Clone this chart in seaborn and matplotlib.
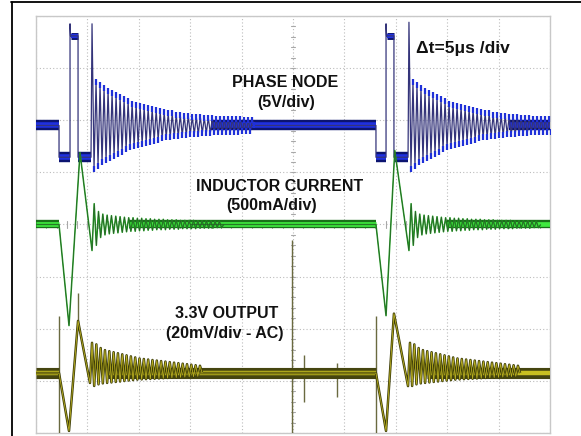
"""
Buck converter switching waveforms (scope capture):
phase node, inductor current and 3.3V output ripple.
Time base 5 us/div, vertical values in screen divisions.
"""

import numpy as np
import pandas as pd
import matplotlib.pyplot as plt
from matplotlib.lines import Line2D
import seaborn as sns

# ---- data read from the capture (t in us, v in divisions) ----
# phase node edges, two switching events
phase_ev1_t = [0.0, 2.24, 2.24, 3.31, 3.31, 3.36, 4.09, 4.09, 5.35, 5.45]
phase_ev1_v = [1.90, 1.90, 1.29, 1.29, 3.85, 3.62, 3.62, 1.29, 1.29, 3.85]
phase_ev2_t = [21.0, 33.07, 33.07, 34.05, 34.05, 34.10, 34.82, 34.82, 36.19, 36.28]
phase_ev2_v = [1.90, 1.90, 1.29, 1.29, 3.85, 3.62, 3.62, 1.29, 1.29, 3.88]
phase_base = 1.90
phase_period = 0.39
phase_ring = [0.83, 0.77, 0.71, 0.67, 0.62, 0.58, 0.54, 0.50, 0.46, 0.42,
              0.40, 0.37, 0.35, 0.33, 0.31, 0.29, 0.27, 0.25, 0.23, 0.23,
              0.21, 0.21, 0.19, 0.19, 0.17, 0.17, 0.17, 0.15, 0.15, 0.15,
              0.13, 0.13, 0.13, 0.12, 0.12, 0.12, 0.12, 0.10, 0.10, 0.10]
phase_band = [(0.0, 2.24, 1.90), (17.0, 33.07, 1.90), (46.0, 50.0, 1.90),
              (2.24, 3.31, 1.29), (4.09, 5.35, 1.29), (33.07, 34.05, 1.29),
              (34.82, 36.19, 1.29)]
phase_high = [(3.36, 4.09, 3.62), (34.10, 34.82, 3.62)]

# inductor current
ind_ev1_t = [0.0, 2.24, 3.21, 4.28, 5.45]
ind_ev1_v = [0.0, 0.0, -1.94, 1.38, -0.50]
ind_ev2_t = [15.0, 33.07, 34.05, 34.90, 36.28]
ind_ev2_v = [0.0, 0.0, -1.75, 1.42, -0.50]
ind_base = 0.0
ind_period = 0.42
ind_ring = [0.40, 0.25, 0.20, 0.18, 0.17, 0.16, 0.15, 0.14, 0.13, 0.13,
            0.12, 0.12, 0.11, 0.11, 0.10, 0.10, 0.10, 0.09, 0.09, 0.09,
            0.08, 0.08, 0.08, 0.08, 0.07, 0.07, 0.07, 0.07, 0.06, 0.06]
ind_band = [(0.0, 2.24, 0.0), (9.0, 33.07, 0.0), (40.0, 50.0, 0.0)]

# 3.3V output ripple
out_ev1_t = [0.0, 2.24, 3.21, 4.09, 5.25, 5.45]
out_ev1_v = [-2.85, -2.85, -3.96, -1.85, -3.04, -2.27]
out_ev2_t = [15.0, 33.07, 34.05, 34.82, 36.19, 36.38]
out_ev2_v = [-2.85, -2.85, -3.96, -1.71, -3.10, -2.27]
out_base = -2.85
out_period = 0.42
out_ring = [0.55, 0.48, 0.44, 0.42, 0.40, 0.38, 0.36, 0.34, 0.32, 0.30,
            0.28, 0.27, 0.26, 0.25, 0.24, 0.23, 0.22, 0.21, 0.20, 0.19,
            0.18, 0.17, 0.16, 0.15, 0.14]
out_band = [(0.0, 2.24, -2.85), (7.0, 33.07, -2.85), (38.0, 50.0, -2.85)]
out_spikes = [(2.24, -1.75, -4.02), (4.09, -1.31, -2.0), (33.07, -1.75, -4.02),
              (24.9, -0.3, -4.02), (26.1, -2.5, -3.4), (29.3, -2.65, -3.3)]


def ring(t_list, v_list, base, amps, period, sign, low=1.0):
    # continue an edge sequence with decaying ringing around the base level
    ts, vs = list(t_list), list(v_list)
    t0 = ts[-1]
    for i, a in enumerate(amps):
        first = a if sign > 0 else a * low
        second = a * low if sign > 0 else a
        ts += [t0 + period * (i + 0.5), t0 + period * (i + 1)]
        vs += [base + sign * first, base - sign * second]
    ts.append(ts[-1] + period / 2)
    vs.append(base)
    return ts, vs


def frame(segments):
    rows = []
    for k, (ts, vs) in enumerate(segments):
        for t, v in zip(ts, vs):
            rows.append((k, t, v))
    return pd.DataFrame(rows, columns=['seg', 't', 'v'])


def draw(ax, segments, color, lw, zorder):
    sns.lineplot(data=frame(segments), x='t', y='v', units='seg', estimator=None,
                 sort=False, color=color, lw=lw, ax=ax, zorder=zorder,
                 legend=False, solid_capstyle='butt')


def peaks(ax, segments, start, color, size, zorder):
    # short coloured dashes at the turning points of the ringing
    df = frame([(ts[start:], vs[start:]) for ts, vs in segments])
    sns.scatterplot(data=df, x='t', y='v', color=color, s=size, marker='|',
                    linewidth=1.6, ax=ax, zorder=zorder, legend=False)


def bands(spans):
    return [([a, b], [v, v]) for a, b, v in spans]


sns.set_style('white')
plt.rcParams['font.family'] = ['Liberation Sans', 'DejaVu Sans']

fig = plt.figure(figsize=(5.81, 4.36), dpi=100)
ax = fig.add_axes([36 / 581, 3 / 436, 514 / 581, 417 / 436])

# graticule
ax.set_xlim(0, 50)
ax.set_ylim(-4.0, 4.0)
ax.set_xticks(np.arange(0, 51, 5))
ax.set_yticks(np.arange(-4, 5, 1))
ax.grid(True, color='#bcbcbc', lw=0.8, linestyle=(0, (1, 2)))
ax.tick_params(length=0, labelbottom=False, labelleft=False)
for s in ax.spines.values():
    s.set_color('#c8c8c8')
    s.set_linewidth(1.0)
for x in np.arange(1, 50, 1):
    ax.plot([x, x], [-0.07, 0.07], color='#a8a8a8', lw=0.8, zorder=1)
for y in np.arange(-3.8, 4.0, 0.2):
    ax.plot([24.85, 25.15], [y, y], color='#a8a8a8', lw=0.8, zorder=1)

# phase node
ph1 = ring(phase_ev1_t, phase_ev1_v, phase_base, phase_ring, phase_period, -1)
ph2 = ring(phase_ev2_t, phase_ev2_v, phase_base, phase_ring, phase_period, -1)
draw(ax, bands(phase_band), '#0c1470', 7.5, 3)
draw(ax, bands(phase_band), '#1f30e0', 4.0, 4)
draw(ax, bands(phase_high), '#0c1470', 5.0, 3)
draw(ax, bands(phase_high), '#1f30e0', 3.0, 4)
draw(ax, [ph1, ph2], '#34347a', 0.9, 5)
peaks(ax, [ph1, ph2], 10, '#1f30d8', 22, 6)

# inductor current
in1 = ring(ind_ev1_t, ind_ev1_v, ind_base, ind_ring, ind_period, 1)
in2 = ring(ind_ev2_t, ind_ev2_v, ind_base, ind_ring, ind_period, 1)
draw(ax, bands(ind_band), '#1a701a', 6.0, 3)
draw(ax, bands(ind_band), '#40ea40', 3.4, 4)
draw(ax, [in1, in2], '#22a022', 1.1, 5)
draw(ax, [in1, in2], '#2e4a2e', 0.35, 6)

# 3.3V output
ou1 = ring(out_ev1_t, out_ev1_v, out_base, out_ring, out_period, -1, low=0.45)
ou2 = ring(out_ev2_t, out_ev2_v, out_base, out_ring, out_period, -1, low=0.45)
spikes = [([t, t], [a, b]) for t, a, b in out_spikes]
draw(ax, spikes, '#6a6a40', 1.0, 3)
draw(ax, bands(out_band), '#454510', 8.0, 3)
draw(ax, bands(out_band), '#c8c020', 3.2, 4)
draw(ax, [ou1, ou2], '#3e3e08', 1.8, 5)
draw(ax, [ou1, ou2], '#bab020', 0.6, 6)

# labels
lab = dict(fontsize=11.5, fontweight='bold', color='#111111', ha='center',
           va='center', zorder=10)
ax.text(24.2, 2.73, 'PHASE NODE', **lab)
ax.text(24.3, 2.35, '(5V/div)', **lab)
ax.text(23.7, 0.73, 'INDUCTOR CURRENT', **lab)
ax.text(22.9, 0.37, '(500mA/div)', **lab)
ax.text(18.5, -1.71, '3.3V OUTPUT', **lab)
ax.text(18.4, -2.10, '(20mV/div - AC)', **lab)
ax.text(37.0, 3.38, '\u0394t=5\u03bcs /div', fontsize=12.5, fontweight='bold',
        color='#111111', ha='left', va='center', zorder=10)

# page frame around the capture
fig.add_artist(Line2D([11 / 581, 1], [1 - 2.5 / 436] * 2, color='black', lw=1.3))
fig.add_artist(Line2D([11.5 / 581] * 2, [0, 1 - 2.5 / 436], color='black', lw=1.3))

plt.savefig('out.png', dpi=100)
